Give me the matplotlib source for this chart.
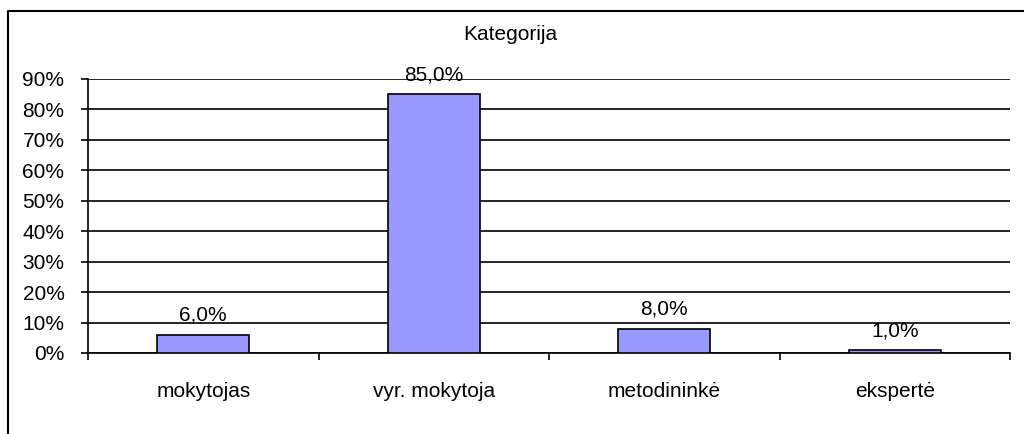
import matplotlib.pyplot as plt
from matplotlib.lines import Line2D

plt.rcParams['font.family'] = ['Liberation Sans', 'DejaVu Sans']

categories = ['mokytojas', 'vyr. mokytoja', 'metodininkė', 'ekspertė']
values = [6.0, 85.0, 8.0, 1.0]

W, H = 1024, 434
fig = plt.figure(figsize=(W / 100, H / 100), dpi=100)
ax = fig.add_axes([88/W, 1 - 353/H, (1010 - 88)/W, (353 - 79)/H])

x = range(len(categories))
ax.bar(x, values, width=0.4, color='#9999FF', edgecolor='black', linewidth=1.2, zorder=3)

for xi, v in zip(x, values):
    ax.annotate(f"{v:.1f}%".replace('.', ','), (xi, v), xytext=(0, 10), textcoords='offset points',
                ha='center', va='baseline', fontsize=15)

ax.set_xlim(-0.5, len(categories) - 0.5)
ax.set_ylim(0, 90)
ax.set_yticks(range(0, 91, 10))
ax.set_yticklabels([f"{t}%" for t in range(0, 91, 10)], fontsize=15)
ax.yaxis.grid(True, color='black', linewidth=1.2, zorder=0)
ax.tick_params(axis='y', direction='out', length=5, width=1.2, pad=12)

# category ticks between bars
ax.set_xticks([i - 0.5 for i in range(len(categories) + 1)], minor=False)
ax.set_xticklabels([])
ax.set_xticks(list(x), minor=True)
ax.set_xticklabels(categories, minor=True, fontsize=15)
ax.tick_params(axis='x', which='major', direction='out', length=5, width=1.2)
ax.tick_params(axis='x', which='minor', length=0, pad=21)

for s in ['top', 'right']:
    ax.spines[s].set_visible(False)
ax.spines['left'].set_linewidth(1.2)
ax.spines['bottom'].set_linewidth(1.2)

fig.text(510/W, 1 - 35/H, 'Kategorija', ha='center', va='center', fontsize=15)

# chart frame (only top and left edges fall inside the image)
fig.add_artist(Line2D([8/W, 8/W, 1], [0, 1 - 11/H, 1 - 11/H], transform=fig.transFigure,
                      color='black', linewidth=1.5))

fig.savefig('out.png', dpi=100)
